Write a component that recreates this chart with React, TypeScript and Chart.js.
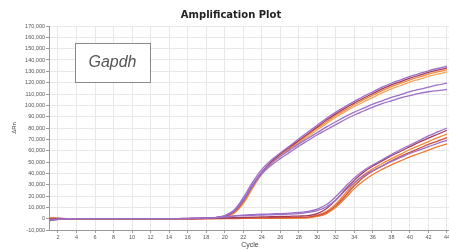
import React, { useEffect, useRef } from "react";
import { Chart, registerables } from "chart.js";

Chart.register(...registerables);

const cycles = [1,2,3,4,5,6,7,8,9,10,11,12,13,14,15,16,17,18,19,20,21,22,23,24,25,26,27,28,29,30,31,32,33,34,35,36,37,38,39,40,41,42,43,44];
const xTickValues = [2,4,6,8,10,12,14,16,18,20,22,24,26,28,30,32,34,36,38,40,42,44];

const wellA1 = [-1500,-600,-200,0,0,0,0,0,0,0,0,0,0,0,100,100,200,400,1000,2800,7500,18500,32000,43500,51500,58000,64000,70500,76500,82500,88500,94000,99000,103500,108000,112000,116000,119500,122500,125500,128000,130500,132500,134500];
const wellA2 = [-800,-300,0,0,0,0,0,0,0,0,0,0,0,0,0,100,200,300,800,2000,6000,15500,29000,41000,50000,57000,63000,69000,75000,81000,87000,92500,97500,102000,106500,110500,114500,118000,121000,124000,126500,129000,131000,133000];
const wellA3 = [500,200,0,0,0,0,0,0,0,0,0,0,0,0,0,0,100,200,600,1600,5000,14000,27500,40000,49000,56000,62000,68000,74000,80000,85500,91000,96000,100500,105000,109000,113000,116500,119500,122500,125000,127500,129500,131500];
const wellA4 = [-2000,-800,-300,0,0,0,0,0,0,0,0,0,0,0,0,0,100,200,500,1300,4500,13000,26500,39000,48000,55000,61000,67000,72500,78500,84000,89500,94500,99000,103000,107000,111000,114500,117500,120500,123000,125500,127500,129500];
const wellA5 = [-1200,-500,-100,0,0,0,0,0,0,0,0,0,0,0,0,100,200,400,900,2400,7000,17000,30000,41000,49000,55000,60500,66000,71000,76000,81000,85500,90000,94000,97500,101000,104000,107000,109500,112000,114000,116000,118000,119500];
const wellA6 = [1000,400,0,0,0,0,0,0,0,0,0,0,0,0,0,100,200,400,900,2200,6500,16000,28500,39500,47000,53000,58500,64000,69000,74000,78500,83000,87500,91500,95000,98500,101500,104000,106500,108500,110500,112000,113000,114000];
const wellB1 = [-1000,-400,0,0,0,0,0,0,0,0,0,0,0,0,100,200,300,500,900,1600,2500,3200,3600,3900,4200,4500,4900,5500,6500,8500,12500,19500,28000,36000,42500,47500,52000,56500,61000,65000,69000,73000,76500,80000];
const wellB2 = [-600,-200,0,0,0,0,0,0,0,0,0,0,0,0,0,0,100,200,400,600,900,1100,1300,1500,1700,1900,2100,2300,2700,4500,9000,16500,25500,34000,41000,46500,51000,55500,59500,63500,67500,71000,74500,78000];
const wellB3 = [800,300,0,0,0,0,0,0,0,0,0,0,0,0,0,0,0,100,100,200,200,300,300,400,400,500,600,800,1200,3000,6500,13000,22000,31000,38500,44000,48500,53000,57000,61000,64500,68000,71500,74500];
const wellB4 = [-1800,-700,-200,0,0,0,0,0,0,0,0,0,0,0,100,200,300,500,900,1500,2200,2700,3000,3200,3400,3700,4000,4500,5500,7000,10500,16500,24500,32000,38000,42500,46500,50500,54000,57500,60500,63500,66500,69000];
const wellB5 = [200,100,0,0,0,0,0,0,0,0,0,0,0,0,0,0,0,0,100,100,100,200,200,200,300,300,400,500,800,2000,4500,10000,18000,26500,33500,39000,43500,47500,51000,54500,57500,60500,63500,66000];
const wellB6 = [-400,-100,0,0,0,0,0,0,0,0,0,0,0,0,0,0,0,100,200,300,400,500,600,700,800,900,1000,1100,1400,2800,5500,11500,20000,29000,36500,42000,46500,51000,55000,58500,62000,65500,68500,71500];

const wells = [wellB1, wellB4, wellB2, wellB6, wellB3, wellB5, wellA1, wellA5, wellA6, wellA2, wellA3, wellA4];
const wellNames = ["B1", "B4", "B2", "B6", "B3", "B5", "A1", "A5", "A6", "A2", "A3", "A4"];
const wellColors = ["#9c6fc8", "#9c6fc8", "#a33a5c", "#d0503e", "#f08a36", "#ee7a30", "#9c6fc8", "#9c6fc8", "#9c6fc8", "#a33a5c", "#f08a36", "#f5a55c"];

const titleText = "Amplification Plot";
const yTitle = "ΔRn";
const xTitle = "Cycle";
const targetLabel = "Gapdh";

const overlayPlugin = {
  id: "overlay",
  afterDraw(chart: any) {
    const ctx = chart.ctx as CanvasRenderingContext2D;
    const a = chart.chartArea;
    ctx.save();
    ctx.fillStyle = "#222";
    ctx.textAlign = "center";
    ctx.textBaseline = "middle";
    ctx.font = 'bold 10px "DejaVu Sans"';
    ctx.fillText(titleText, 231, 15);

    ctx.font = '7px "Liberation Sans"';
    ctx.fillStyle = "#444";
    ctx.fillText(xTitle, 250, 245);

    ctx.save();
    ctx.translate(14, (a.top + a.bottom) / 2);
    ctx.rotate(-Math.PI / 2);
    ctx.font = '6px "Liberation Sans"';
    ctx.fillText(yTitle, 0, 0);
    ctx.restore();

    const bx = a.left + 26;
    const by = a.top + 17;
    ctx.fillStyle = "#ffffff";
    ctx.fillRect(bx, by, 75, 39);
    ctx.strokeStyle = "#8a8a8a";
    ctx.lineWidth = 1;
    ctx.strokeRect(bx + 0.5, by + 0.5, 75, 39);
    ctx.fillStyle = "#555";
    ctx.font = 'italic 16px "Liberation Sans"';
    ctx.fillText(targetLabel, bx + 37.5, by + 20);
    ctx.restore();
  },
};

export default function App() {
  const ref = useRef<HTMLCanvasElement | null>(null);
  useEffect(() => {
    if (!ref.current) return;
    const chart = new Chart(ref.current, {
      type: "line",
      data: {
        labels: cycles,
        datasets: wells.map((w, i) => ({
          label: wellNames[i],
          data: w.map((v, j) => ({ x: cycles[j], y: v })),
          borderColor: wellColors[i],
          backgroundColor: wellColors[i],
          borderWidth: 1.3,
          pointRadius: 0,
          tension: 0.35,
          fill: false,
        })),
      },
      options: {
        responsive: false,
        animation: false,
        layout: { padding: { top: 26, left: 0, right: 0, bottom: 0 } },
        plugins: {
          legend: { display: false },
          title: { display: false },
          tooltip: { enabled: false },
        },
        scales: {
          x: {
            type: "linear",
            min: 1.03,
            max: 44.22,
            afterBuildTicks: (axis: any) => {
              axis.ticks = xTickValues.map((v) => ({ value: v }));
            },
            afterFit: (s: any) => {
              s.height = 20;
              s.paddingLeft = 0;
              s.paddingRight = 0;
            },
            ticks: {
              autoSkip: false,
              maxRotation: 0,
              padding: 1,
              color: "#555",
              font: { family: "Liberation Sans", size: 5.5 },
            },
            grid: { color: "#e8e8e8", tickColor: "#999", tickLength: 3 },
            border: { color: "#999" },
          },
          y: {
            min: -10000,
            max: 170000,
            afterFit: (s: any) => {
              s.width = 49;
              s.paddingTop = 0;
              s.paddingBottom = 0;
            },
            ticks: {
              stepSize: 10000,
              padding: 1,
              color: "#555",
              font: { family: "Liberation Sans", size: 5.5 },
              callback: (v: any) => Number(v).toLocaleString("en-US"),
            },
            grid: { color: "#e8e8e8", tickColor: "#999", tickLength: 3 },
            border: { color: "#999" },
          },
        },
      },
      plugins: [overlayPlugin],
    });
    return () => chart.destroy();
  }, []);
  return (
    <canvas
      ref={ref}
      width={449}
      height={250}
      style={{ position: "fixed", left: 0, top: 0, width: 449, height: 250, display: "block", background: "#fff" }}
    />
  );
}
